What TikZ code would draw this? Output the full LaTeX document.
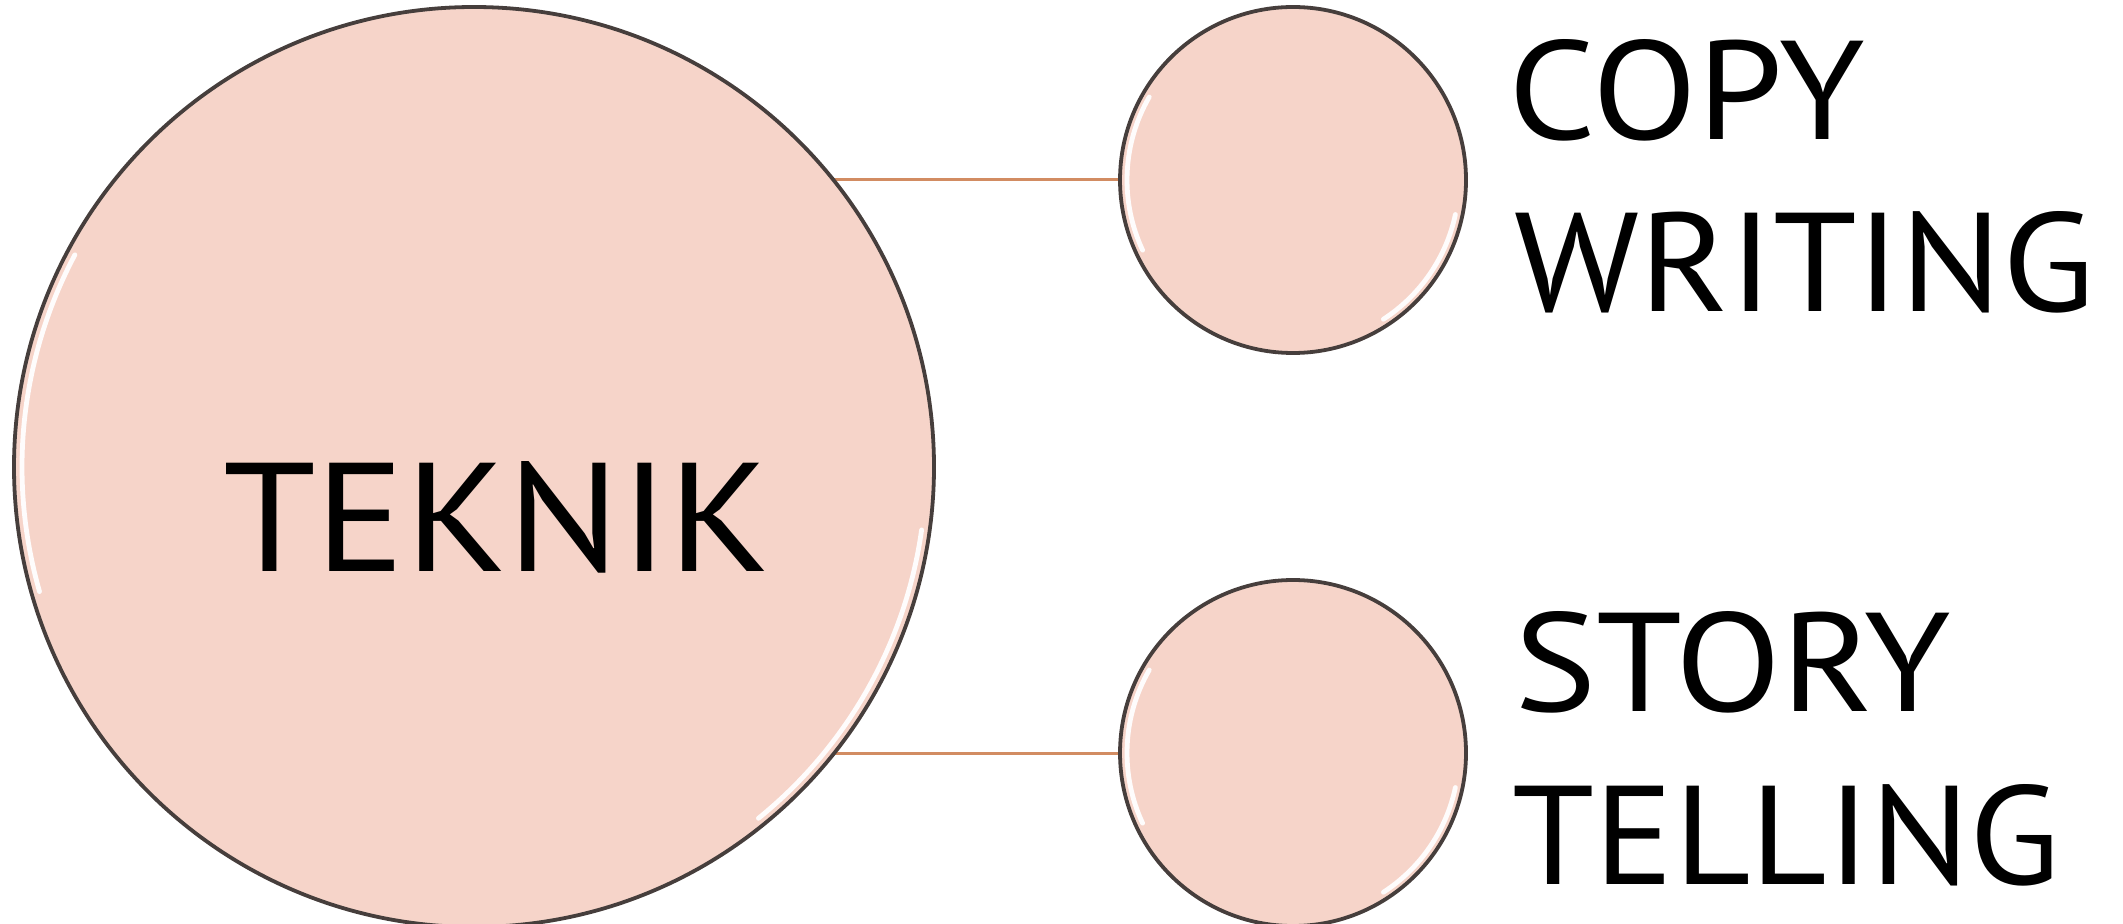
\documentclass[tikz,border=0pt]{standalone}
\usepackage{fontspec}
\usepackage{graphicx}
\newfontfamily\lblfont{PT Sans}
\usetikzlibrary{backgrounds}
\definecolor{bubble}{RGB}{246,212,201}
\definecolor{rim}{RGB}{70,62,60}
\definecolor{linkc}{RGB}{210,140,98}
\tikzset{
  bubblenode/.style={circle, fill=bubble, draw=rim, line width=1.9pt, inner sep=0pt},
  shine/.style={white, line width=2.4pt, line cap=round, opacity=0.95},
  link/.style={linkc, line width=1.5pt},
  lbl/.style={inner sep=0pt, font=\lblfont, anchor=west}
}
\begin{document}
\begin{tikzpicture}[x=0.5pt, y=-0.5pt]
\useasboundingbox (0,0) rectangle (2123,924);
% circles
\node[bubblenode, minimum size=460pt] (teknik) at (474,467) {};
\node[bubblenode, minimum size=173pt] (copy) at (1293,180) {};
\node[bubblenode, minimum size=173pt] (story) at (1293,753) {};
% connectors behind
\begin{scope}[on background layer]
  \draw[link] (teknik.center |- copy.west) -- (copy.west);
  \draw[link] (teknik.center |- story.west) -- (story.west);
\end{scope}
% highlights
\draw[shine] (teknik.center) ++(152:226pt) arc (152:196:226pt);
\draw[shine] (teknik.center) ++(-51:226pt) arc (-51:-8:226pt);
\draw[shine] (copy.center) ++(150:83pt) arc (150:205:83pt);
\draw[shine] (copy.center) ++(-57:83pt) arc (-57:-12:83pt);
\draw[shine] (story.center) ++(150:83pt) arc (150:205:83pt);
\draw[shine] (story.center) ++(-57:83pt) arc (-57:-12:83pt);
% texts
\node[inner sep=0pt, font=\lblfont] (tekniktext) at (497,517) {\resizebox{274pt}{55pt}{TEKNIK}};
\node[lbl] (copyl1) at (1508,90) {\resizebox{178pt}{50pt}{COPY}};
\node[lbl] (copyl2) at (1514,262) {\resizebox{290pt}{50pt}{WRITING}};
\node[lbl] (storyl1) at (1514,662) {\resizebox{218pt}{50pt}{STORY}};
\node[lbl] (storyl2) at (1512,835) {\resizebox{274pt}{50pt}{TELLING}};
\end{tikzpicture}
\end{document}
